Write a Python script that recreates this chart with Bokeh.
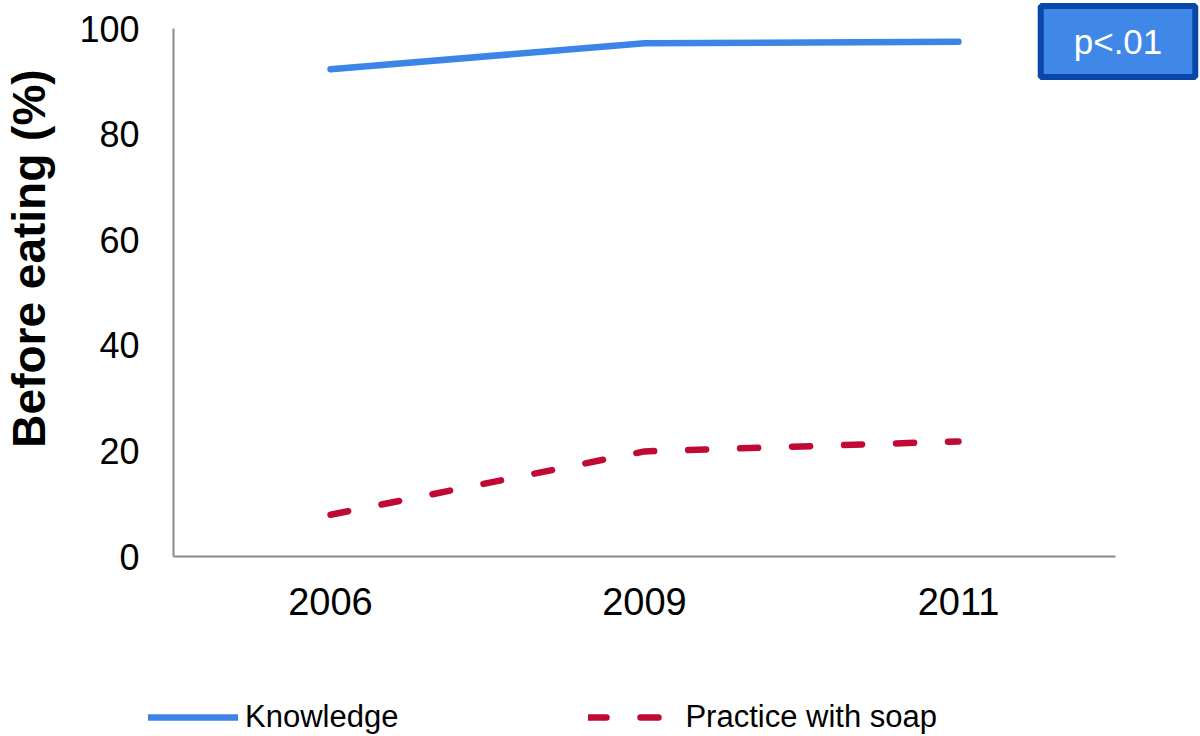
from bokeh.plotting import figure
from bokeh.models import Range1d, Label, Legend, LegendItem, ColumnDataSource, FixedTicker
from bokeh.embed import file_html
from bokeh.resources import INLINE
import math

years = ["2006", "2009", "2011"]
knowledge = [92.3, 97.2, 97.5]
practice = [7.9, 19.9, 21.8]
y_ticks = [0, 20, 40, 60, 80, 100]
y_title = "Before eating (%)"
series_names = ["Knowledge", "Practice with soap"]
annotation = "p<.01"

BLUE = "#3c85e6"
RED = "#c00a35"
FONT = "Liberation Sans"

W, H = 1200, 736
# frame geometry (pixels) of the plotting area within the canvas
FL, FR, FT, FB = 173, 1115, 28, 556
n = len(years)
ppx = (FR - FL) / n          # pixels per category
ppy = (FB - FT) / 100.0      # pixels per percent

xpos = [i + 0.5 for i in range(n)]

p = figure(width=W, height=H, output_backend="svg", toolbar_location=None,
           x_range=Range1d(-FL / ppx, n + (W - FR) / ppx),
           y_range=Range1d(-(H - FB) / ppy, 100 + FT / ppy),
           min_border=0)
p.outline_line_color = None
p.grid.grid_line_color = None
p.background_fill_color = "white"
p.border_fill_color = "white"

src = ColumnDataSource(dict(x=xpos, knowledge=knowledge, practice=practice))
r1 = p.line("x", "knowledge", source=src, line_color=BLUE, line_width=6.5,
            line_cap="round", line_join="round")
r2 = p.line("x", "practice", source=src, line_color=RED, line_width=6.5,
            line_cap="round", line_join="round", line_dash="18 34")

for ax in (p.xaxis[0], p.yaxis[0]):
    ax.axis_line_color = "#8a8a8a"
    ax.axis_line_width = 2
    ax.major_tick_line_color = None
    ax.minor_tick_line_color = None
    ax.major_tick_out = 0
    ax.major_tick_in = 0
    ax.minor_tick_out = 0
    ax.major_label_text_font = FONT
    ax.major_label_text_color = "black"

xa = p.xaxis[0]
xa.fixed_location = 0
xa.bounds = (0, n)
xa.ticker = FixedTicker(ticks=xpos)
xa.major_label_overrides = {xv: yr for xv, yr in zip(xpos, years)}
xa.major_label_text_font_size = "38px"
xa.major_label_standoff = 31

ya = p.yaxis[0]
ya.fixed_location = 0
ya.bounds = (0, 100)
ya.ticker = FixedTicker(ticks=y_ticks)
ya.major_label_text_font_size = "36px"
ya.major_label_standoff = 34


def X(px):
    return (px - FL) / ppx


def Y(py):
    return (FB - py) / ppy


# y-axis title
ylab = Label(x=X(28), y=Y(258), text=y_title, angle=math.pi / 2, text_font=FONT,
             text_font_size="46px", text_font_style="bold", text_align="center",
             text_baseline="middle", text_color="black")
p.add_layout(ylab)

# p-value box  (padding order: left, right, top, bottom)
plab = Label(x=X(1117.5), y=Y(41), text=annotation, text_font=FONT, text_font_size="35px",
             text_color="white", text_align="center", text_baseline="middle",
             background_fill_color="#3f88e8", border_line_color="#0b47a8", border_line_width=6,
             padding=(33, 33, 16, 16))
p.add_layout(plab)

legend = Legend(items=[LegendItem(label=series_names[0], renderers=[r1]),
                       LegendItem(label=series_names[1], renderers=[r2])],
                orientation="horizontal", location=(148, 1),
                glyph_width=90, glyph_height=30, label_standoff=7, spacing=190,
                padding=0, margin=0, border_line_color=None, background_fill_alpha=0,
                label_text_font=FONT, label_text_font_size="31px", label_text_color="black")
p.add_layout(legend)

open("out.html", "w").write(file_html(p, INLINE))
